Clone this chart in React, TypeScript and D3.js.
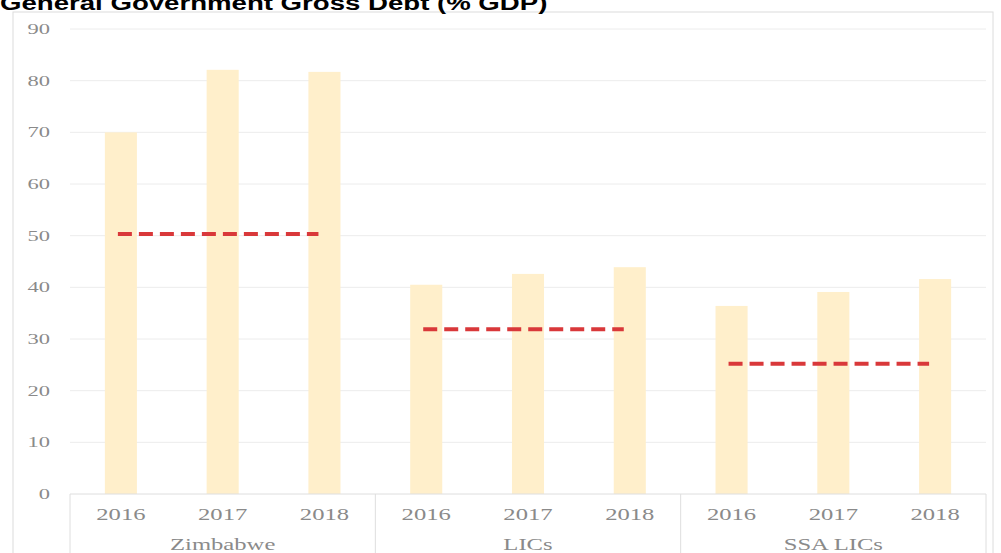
import React from "react";
import * as d3 from "d3";

const groups = ["Zimbabwe", "LICs", "SSA LICs"];
const years = ["2016", "2017", "2018"];
const debtValues = [
  [70.0, 82.1, 81.7],
  [40.5, 42.6, 43.9],
  [36.4, 39.1, 41.6],
];
const averageValues = [50.3, 31.9, 25.2];
const yTicks = [0, 10, 20, 30, 40, 50, 60, 70, 80, 90];

const W = 1001;
const H = 553;
const left = 70;
const right = 986;
const top = 29;
const bottom = 494;

type STProps = { x: number; y: number; sx: number; anchor: string; size: number; children: React.ReactNode; family: string; weight?: string; fill: string };
function SText({ x, y, sx, anchor, size, children, family, weight, fill }: STProps) {
  return (
    <text transform={`translate(${x},${y}) scale(${sx},1)`} textAnchor={anchor} fontFamily={family} fontSize={size} fontWeight={weight || "normal"} fill={fill}>
      {children}
    </text>
  );
}

export default function App() {
  const y = d3.scaleLinear().domain([0, 90]).range([bottom, top]);
  const keys: string[] = [];
  groups.forEach((g) => years.forEach((yr) => keys.push(g + "|" + yr)));
  const x = d3.scaleBand<string>().domain(keys).range([left, right]).paddingInner(0.685).paddingOuter(0.3425);
  const slot = (right - left) / keys.length;
  const groupEdges = groups.map((_, i) => left + i * 3 * slot);
  groupEdges.push(right);
  const serif = "'Liberation Serif', 'Times New Roman', serif";
  const sans = "Arial, 'Liberation Sans', sans-serif";
  const gray = "#8a8a8a";

  return (
    <svg width={W} height={H} style={{ position: "absolute", left: 0, top: 0, background: "#fff" }}>
      <rect x={13} y={12} width={980} height={560} fill="none" stroke="#dcdcdc" strokeWidth={1} />
      <SText x={0} y={10} sx={1.38} anchor="start" size={20} family={sans} weight="bold" fill="#000">
        General Government Gross Debt (% GDP)
      </SText>
      {yTicks.map((t) => (
        <g key={t}>
          {t > 0 && <line x1={left} x2={right} y1={y(t)} y2={y(t)} stroke="#ececec" strokeWidth={1} />}
          <SText x={50} y={y(t) + 5} sx={1.5} anchor="end" size={15} family={serif} fill={gray}>
            {t}
          </SText>
        </g>
      ))}
      {groups.map((g, gi) =>
        years.map((yr, yi) => {
          const k = g + "|" + yr;
          const v = debtValues[gi][yi];
          return (
            <rect key={k} x={x(k)} y={y(v)} width={x.bandwidth()} height={y(0) - y(v)} fill="#FFEFCB" />
          );
        })
      )}
      <line x1={left} x2={right} y1={bottom} y2={bottom} stroke="#dedede" strokeWidth={1} />
      {groupEdges.map((gx, i) => (
        <line key={i} x1={gx} x2={gx} y1={bottom} y2={H} stroke="#dedede" strokeWidth={1} />
      ))}
      {groups.map((g, gi) => {
        const k0 = g + "|" + years[0];
        const k2 = g + "|" + years[2];
        const x0 = (x(k0) as number) + x.bandwidth() / 2 - 3;
        const x1 = (x(k2) as number) + x.bandwidth() / 2 - 6;
        return (
          <line key={g} x1={x0} x2={x1} y1={y(averageValues[gi])} y2={y(averageValues[gi])}
            stroke="#D9383A" strokeWidth={4} strokeDasharray="14 7" />
        );
      })}
      {groups.map((g) =>
        years.map((yr) => {
          const k = g + "|" + yr;
          return (
            <SText key={k} x={(x(k) as number) + x.bandwidth() / 2} y={520} sx={1.45} anchor="middle" size={17} family={serif} fill={gray}>
              {yr}
            </SText>
          );
        })
      )}
      {groups.map((g, gi) => (
        <SText key={g} x={(groupEdges[gi] + groupEdges[gi + 1]) / 2} y={550} sx={1.45} anchor="middle" size={17} family={serif} fill={gray}>
          {g}
        </SText>
      ))}
    </svg>
  );
}
